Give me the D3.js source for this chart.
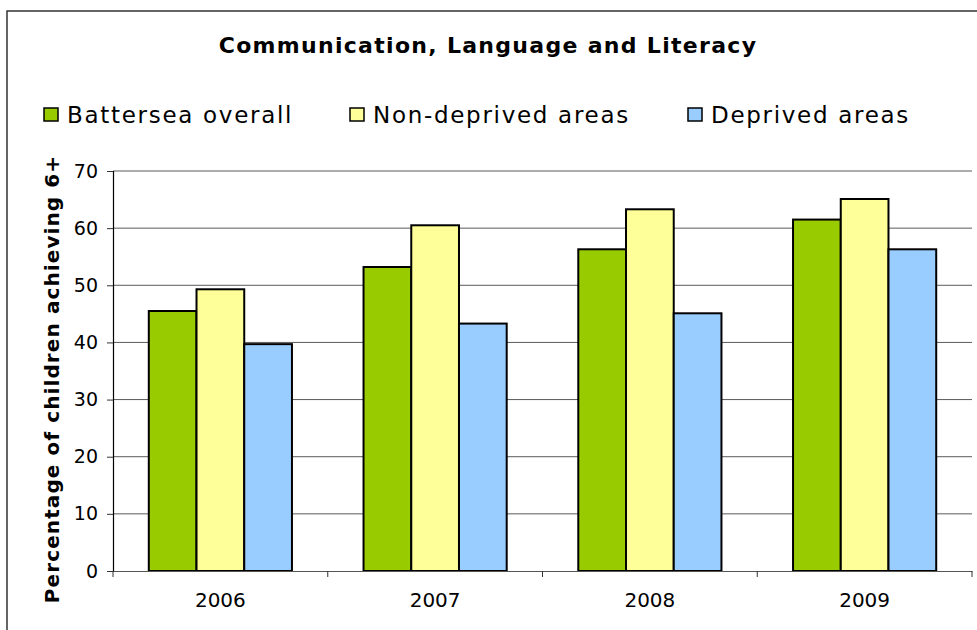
<!DOCTYPE html>
<html>
<head>
<meta charset="utf-8">
<script src="https://cdn.jsdelivr.net/npm/d3@7"></script>
<style>
  html, body { margin: 0; padding: 0; background: #fff; overflow: hidden; }
  svg { display: block; }
  text { font-family: "DejaVu Sans", Verdana, sans-serif; fill: #000; }
</style>
</head>
<body>
<svg id="chart" width="977" height="630"></svg>
<script>
const years = ["2006", "2007", "2008", "2009"];
const seriesNames = ["Battersea overall", "Non-deprived areas", "Deprived areas"];
const battersea = [45.5, 53.2, 56.3, 61.5];
const nonDeprived = [49.3, 60.5, 63.3, 65.1];
const deprived = [39.7, 43.3, 45.1, 56.3];
const yTicks = [0, 10, 20, 30, 40, 50, 60, 70];
const colors = ["#99cc00", "#ffff99", "#99ccff"];
const titleText = "Communication, Language and Literacy";
const yLabel = "Percentage of children achieving 6+";

const seriesValues = [battersea, nonDeprived, deprived];

const svg = d3.select("#chart");

// outer frame
svg.append("rect")
  .attr("x", 7).attr("y", 11)
  .attr("width", 1000).attr("height", 700)
  .attr("fill", "#fff")
  .attr("stroke", "#333").attr("stroke-width", 1.5);

const plotL = 113, plotR = 972, plotT = 171, plotB = 571;

const x0 = d3.scaleBand().domain(years).range([plotL, plotR]).padding(0);
const groupW = x0.bandwidth() * 3 / 4.5;
const x1 = d3.scaleBand().domain(seriesNames).range([0, groupW]).padding(0);
const y = d3.scaleLinear().domain([0, 70]).range([plotB, plotT]);

// gridlines
svg.append("g").selectAll("line")
  .data(yTicks.filter(d => d > 0))
  .join("line")
  .attr("x1", plotL).attr("x2", plotR)
  .attr("y1", d => y(d)).attr("y2", d => y(d))
  .attr("stroke", "#5a5a5a").attr("stroke-width", 1);

// bars
const groups = svg.append("g").selectAll("g")
  .data(years)
  .join("g")
  .attr("transform", d => `translate(${x0(d) + (x0.bandwidth() - groupW) / 2},0)`);

groups.selectAll("rect")
  .data((yr, i) => seriesNames.map((s, k) => ({ s, k, v: seriesValues[k][i] })))
  .join("rect")
  .attr("x", d => x1(d.s))
  .attr("y", d => y(d.v))
  .attr("width", x1.bandwidth())
  .attr("height", d => y(0) - y(d.v))
  .attr("fill", d => colors[d.k])
  .attr("stroke", "#000").attr("stroke-width", 2);

// y axis
const yAxis = d3.axisLeft(y).tickValues(yTicks).tickSize(6).tickPadding(9);
const gy = svg.append("g").attr("transform", `translate(${plotL},0)`).call(yAxis);
gy.select(".domain").attr("stroke", "#000").attr("stroke-width", 1.2);
gy.selectAll(".tick line").attr("stroke", "#333");
gy.selectAll(".tick text")
  .attr("font-family", "'DejaVu Sans', Verdana, sans-serif")
  .attr("font-size", 19).attr("fill", "#000");

// x axis
const xAxis = d3.axisBottom(x0).tickSize(0).tickPadding(22);
const gx = svg.append("g").attr("transform", `translate(0,${plotB})`).call(xAxis);
gx.select(".domain").attr("stroke", "#555").attr("stroke-width", 1.2);
gx.selectAll(".tick text")
  .attr("font-family", "'DejaVu Sans', Verdana, sans-serif")
  .attr("font-size", 20).attr("fill", "#000");
// category separator ticks
gx.append("g").selectAll("line")
  .data(years.concat(["end"]))
  .join("line")
  .attr("x1", (d, i) => i < years.length ? x0(d) : plotR)
  .attr("x2", (d, i) => i < years.length ? x0(d) : plotR)
  .attr("y1", 0).attr("y2", 6)
  .attr("stroke", "#333").attr("stroke-width", 1);

// title
svg.append("text")
  .attr("x", 488).attr("y", 53)
  .attr("text-anchor", "middle")
  .attr("font-size", 22).attr("font-weight", "bold")
  .attr("letter-spacing", 1.3)
  .text(titleText);

// y label
svg.append("text")
  .attr("transform", "translate(59,379) rotate(-90)")
  .attr("text-anchor", "middle")
  .attr("font-size", 20).attr("font-weight", "bold")
  .attr("letter-spacing", 1.1)
  .text(yLabel);

// legend
const legendX = [44, 350, 688];
const legend = svg.append("g").selectAll("g")
  .data(seriesNames)
  .join("g")
  .attr("transform", (d, i) => `translate(${legendX[i]},108)`);
legend.append("rect")
  .attr("width", 14).attr("height", 13)
  .attr("fill", (d, i) => colors[i])
  .attr("stroke", "#000").attr("stroke-width", 1.5);
legend.append("text")
  .attr("x", 23).attr("y", 15)
  .attr("font-size", 23)
  .attr("letter-spacing", 1.7)
  .text(d => d);
</script>
</body>
</html>
